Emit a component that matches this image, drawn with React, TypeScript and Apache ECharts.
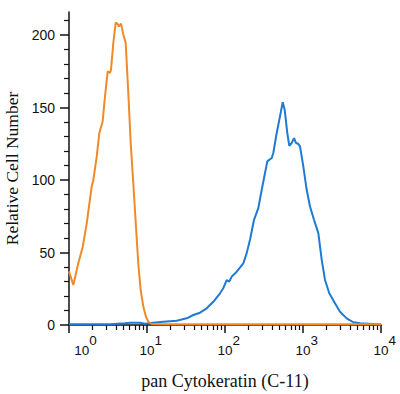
import React, { useEffect, useRef } from "react";
import * as echarts from "echarts";

const orangeX = [1.0, 1.135, 1.316, 1.5, 1.686, 1.954, 2.05, 2.265, 2.446, 2.7, 2.894, 3.134, 3.355, 3.453, 3.7, 3.97, 4.16, 4.375, 4.64, 4.97, 5.33, 5.76, 6.18, 6.67, 7.22, 7.73, 8.3, 8.97, 9.7, 10.4, 11.5, 20, 100, 1000, 10000];
const orangeY = [37, 27.6, 42.6, 54, 70, 95.6, 100, 116, 132.5, 140.5, 157.8, 175, 174, 176, 194.7, 208.6, 208, 206, 208, 200.5, 194.7, 160, 125.6, 98, 68, 42.6, 24, 12.7, 5.7, 2.3, 0.7, 0.6, 0.6, 0.6, 0.6];

const blueX = [1, 3.35, 5.22, 6.05, 8.13, 9.42, 12.0, 16.2, 24.0, 32.3, 39.2, 47.8, 58.2, 70.8, 86.3, 95.1, 105.1, 113.5, 121.9, 141.3, 171.8, 189.7, 209.2, 235.5, 267.4, 295.7, 325.9, 348.6, 397, 416, 460, 507, 549.5, 582, 629, 667, 716, 767, 813, 863, 916, 1009, 1115, 1230, 1384, 1572, 1738, 1914, 2173, 2570, 2980, 3630, 4415, 5380, 10000];
const blueY = [0.5, 0.5, 1.2, 1.6, 1.5, 0.8, 1.6, 2.3, 3, 4.6, 6.9, 8.5, 11.5, 16, 21.9, 25.4, 31, 30, 33.4, 36.8, 42.6, 49.6, 58.8, 72.6, 80.7, 93.3, 104.9, 112.9, 115.2, 118.7, 132.5, 144, 153.7, 148.6, 132.5, 123.7, 125.6, 129, 125.6, 125.1, 123.3, 109.5, 93.3, 81.8, 72.6, 63.4, 44.9, 31.1, 21.9, 15, 9.2, 4.6, 1.9, 1.2, 0.4];

const xMajorTicks = [1, 10, 100, 1000, 10000];
const xMinorTicks = [2, 3, 4, 5, 6, 7, 8, 9, 20, 30, 40, 50, 60, 70, 80, 90, 200, 300, 400, 500, 600, 700, 800, 900, 2000, 3000, 4000, 5000, 6000, 7000, 8000, 9000];
const yMajorTicks = [0, 50, 100, 150, 200];
const yMinorTicks = [10, 20, 30, 40, 60, 70, 80, 90, 110, 120, 130, 140, 160, 170, 180, 190, 210];

const xTitle = "pan Cytokeratin (C-11)";
const yTitle = "Relative Cell Number";

export default function App() {
  const ref = useRef<HTMLDivElement>(null);
  useEffect(() => {
    if (!ref.current) return;
    const chart = echarts.init(ref.current, null, { renderer: "svg" });
    const sans = "Liberation Sans, Arial, sans-serif";
    const serif = "Liberation Serif, Times New Roman, serif";
    const axisColor = "#111";
    chart.setOption({
      animation: false,
      backgroundColor: "#fff",
      grid: { left: 69, right: 19, top: 12, bottom: 69, containLabel: false, outerBoundsMode: "none" },
      xAxis: [
        {
          type: "log",
          logBase: 10,
          min: 1,
          max: 10000,
          position: "bottom",
          name: xTitle,
          nameLocation: "middle",
          nameGap: 47,
          nameTextStyle: { fontFamily: serif, fontSize: 18, color: "#111" },
          axisLine: { onZero: false, lineStyle: { color: axisColor, width: 1.5 } },
          axisTick: { customValues: xMajorTicks, length: 8, lineStyle: { color: axisColor, width: 1.5 } },
          splitLine: { show: false },
          minorTick: { show: false },
          axisLabel: {
            customValues: xMajorTicks,
            margin: 16,
            formatter: (v: number) => {
              const e = Math.round(Math.log10(v));
              return e === 0 ? `{b0|10}{s|${e}}` : `{b|10}{s|${e}}`;
            },
            rich: {
              b: { fontFamily: sans, fontSize: 13.5, color: "#111", lineHeight: 16, verticalAlign: "bottom", padding: [0, 0, 0, 7.5] },
              b0: { fontFamily: sans, fontSize: 13.5, color: "#111", lineHeight: 16, verticalAlign: "bottom", padding: [0, 0, 0, 33] },
              s: { fontFamily: sans, fontSize: 13.5, color: "#111", lineHeight: 16, verticalAlign: "bottom", padding: [0, 0, 10, 0] },
            },
          },
        },
        {
          type: "log",
          logBase: 10,
          min: 1,
          max: 10000,
          position: "bottom",
          axisLine: { show: false, onZero: false },
          axisTick: { customValues: xMinorTicks, length: 5, lineStyle: { color: axisColor, width: 1.2 } },
          axisLabel: { show: false },
          splitLine: { show: false },
        },
      ],
      yAxis: [
        {
          type: "value",
          min: 0,
          max: 216,
          position: "left",
          name: yTitle,
          nameLocation: "middle",
          nameGap: 41,
          nameTextStyle: { fontFamily: serif, fontSize: 17.5, color: "#111" },
          axisLine: { show: true, onZero: false, lineStyle: { color: axisColor, width: 1.5 } },
          axisTick: { show: true, customValues: yMajorTicks, length: 9, lineStyle: { color: axisColor, width: 1.5 } },
          axisLabel: { customValues: yMajorTicks, margin: 14, fontFamily: sans, fontSize: 14, color: "#111" },
          splitLine: { show: false },
        },
        {
          type: "value",
          min: 0,
          max: 216,
          position: "left",
          offset: 0,
          axisLine: { show: false, onZero: false },
          axisTick: { show: true, customValues: yMinorTicks, length: 5, lineStyle: { color: axisColor, width: 1.2 } },
          axisLabel: { show: false },
          splitLine: { show: false },
        },
      ],
      series: [
        {
          type: "line",
          xAxisIndex: 0,
          yAxisIndex: 0,
          data: blueX.map((x, i) => [x, blueY[i]]),
          showSymbol: false,
          symbol: "none",
          lineStyle: { color: "#1F7AD3", width: 2 },
          itemStyle: { color: "#1F7AD3" },
          z: 2,
        },
        {
          type: "line",
          xAxisIndex: 0,
          yAxisIndex: 0,
          data: orangeX.map((x, i) => [x, orangeY[i]]),
          showSymbol: false,
          symbol: "none",
          lineStyle: { color: "#EF8A2B", width: 2 },
          itemStyle: { color: "#EF8A2B" },
          z: 3,
        },
      ],
    });
    return () => chart.dispose();
  }, []);
  return <div ref={ref} style={{ width: 400, height: 394, position: "fixed", left: 0, top: 0 }} />;
}
